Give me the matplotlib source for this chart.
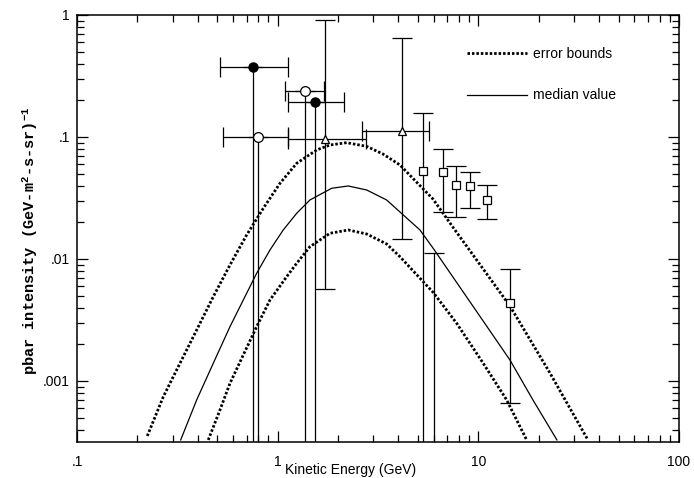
import numpy as np
import matplotlib
matplotlib.use('Agg')
import matplotlib.pyplot as plt
from matplotlib.ticker import FixedLocator, FixedFormatter, LogLocator, NullFormatter

# model curves (kinetic energy in GeV, intensity)
upper_x = [0.2240, 0.2692, 0.3259, 0.3948, 0.4776, 0.5785, 0.7006, 0.8480, 1.027, 1.244,
           1.564, 1.822, 2.207, 2.777, 3.347, 4.068, 5.940, 7.645, 14.37, 22.74, 35.17]
upper_y = [3.541e-4, 7.43e-4, 1.396e-3, 2.618e-3, 4.91e-3, 8.93e-3, 0.01573, 0.02603, 0.04174, 0.06087,
           0.07822, 0.08599, 0.08981, 0.0838, 0.0725, 0.05896, 0.03103, 0.01729, 4.118e-3, 1.163e-3, 3.284e-4]
median_x = [0.3286, 0.3948, 0.4776, 0.5785, 0.7006, 0.7857, 0.9154, 1.066, 1.244, 1.448, 1.858,
            2.248, 2.777, 3.492, 4.068, 5.117, 5.940, 8.744, 14.37, 18.71, 24.64]
median_y = [3.284e-4, 6.99e-4, 1.396e-3, 2.786e-3, 5.235e-3, 7.634e-3, 0.01185, 0.01729, 0.02369, 0.03045, 0.03798,
            0.03967, 0.03677, 0.03045, 0.02428, 0.01729, 0.01231, 4.882e-3, 1.486e-3, 6.99e-4, 3.284e-4]
lower_x = [0.4510, 0.5158, 0.5785, 0.6740, 0.7857, 0.9154, 1.109, 1.244, 1.448, 1.822,
           2.248, 2.777, 3.492, 4.068, 5.961, 7.797, 10.58, 13.84, 17.41]
lower_y = [3.284e-4, 5.787e-4, 9.57e-4, 1.633e-3, 2.786e-3, 4.612e-3, 7.16e-3, 9.22e-3, 0.01261, 0.01624,
           0.01729, 0.01603, 0.01327, 0.01044, 5.314e-3, 2.972e-3, 1.396e-3, 6.99e-4, 3.284e-4]

# measurements: x, y, x range, y range (1e-6 = error bar goes to zero)
fcirc_x = [0.753, 1.535]
fcirc_y = [0.375, 0.194]
fcirc_xlo = [0.516, 1.125]
fcirc_xhi = [1.125, 2.14]
fcirc_ylo = [1e-6, 1e-6]
fcirc_yhi = [0.375, 0.194]

ocirc_x = [0.798, 1.37]
ocirc_y = [0.100, 0.238]
ocirc_xlo = [0.534, 1.087]
ocirc_xhi = [1.125, 1.70]
ocirc_ylo = [1e-6, 1e-6]
ocirc_yhi = [0.100, 0.238]

tri_x = [1.72, 4.16]
tri_y = [0.096, 0.112]
tri_xlo = [1.125, 2.63]
tri_xhi = [2.75, 5.67]
tri_ylo = [0.0057, 0.0146]
tri_yhi = [0.91, 0.648]

sq_x = [5.30, 6.66, 7.73, 9.08, 11.04, 14.35]
sq_y = [0.0526, 0.0516, 0.0404, 0.0397, 0.0305, 0.00436]
sq_ylo = [1e-6, 0.0243, 0.0221, 0.0262, 0.0213, 0.00066]
sq_yhi = [0.157, 0.0798, 0.0578, 0.0516, 0.0404, 0.00828]

ul_x = [6.0]
ul_y = [0.0112]

xticks = [0.1, 1, 10, 100]
xticklabels = ['.1', '1', '10', '100']
yticks = [0.001, 0.01, 0.1, 1]
yticklabels = ['.001', '.01', '.1', '1']

plt.rcParams['font.family'] = 'Liberation Sans'
plt.rcParams['mathtext.fontset'] = 'custom'
plt.rcParams['mathtext.rm'] = 'Liberation Mono:bold'
plt.rcParams['mathtext.it'] = 'Liberation Mono:bold'
plt.rcParams['mathtext.bf'] = 'Liberation Mono:bold'

fig = plt.figure(figsize=(6.94, 4.78), dpi=100)
ax = fig.add_axes([77/694, 1-442/478, (679-77)/694, (442-15)/478])

DOT = (0, (0.9, 0.7))
ax.plot(upper_x, upper_y, color='black', lw=2.0, linestyle=DOT, label='error bounds')
ax.plot(median_x, median_y, color='black', lw=0.9, label='median value')
ax.plot(lower_x, lower_y, color='black', lw=2.0, linestyle=DOT)

def ebar(x, y, xlo, xhi, ylo, yhi, **kw):
    x = np.array(x); y = np.array(y)
    xerr = None
    if xlo is not None:
        xerr = [x - np.array(xlo), np.array(xhi) - x]
    yerr = [y - np.array(ylo), np.array(yhi) - y]
    ax.errorbar(x, y, xerr=xerr, yerr=yerr, ecolor='black', elinewidth=0.9,
                capsize=7, capthick=0.9, color='black', zorder=3, **kw)

ebar(fcirc_x, fcirc_y, fcirc_xlo, fcirc_xhi, fcirc_ylo, fcirc_yhi,
     fmt='o', ms=6.5, mfc='black', mec='black')
ebar(ocirc_x, ocirc_y, ocirc_xlo, ocirc_xhi, ocirc_ylo, ocirc_yhi,
     fmt='o', ms=7, mfc='white', mec='black', mew=0.9)
ebar(tri_x, tri_y, tri_xlo, tri_xhi, tri_ylo, tri_yhi,
     fmt='^', ms=6, mfc='white', mec='black', mew=0.9)
ebar(sq_x, sq_y, None, None, sq_ylo, sq_yhi,
     fmt='s', ms=5.5, mfc='white', mec='black', mew=0.9)
# upper limit only, value below the plotted range
ax.errorbar(ul_x, ul_y, yerr=[[ul_y[0] - 1e-6], [0]], fmt='none', ecolor='black',
            elinewidth=0.9, capsize=7, capthick=0.9)

ax.set_xscale('log')
ax.set_yscale('log')
ax.set_xlim(0.1, 100)
ax.set_ylim(3.16e-4, 1)

ax.xaxis.set_major_locator(FixedLocator(xticks))
ax.xaxis.set_major_formatter(FixedFormatter(xticklabels))
ax.yaxis.set_major_locator(FixedLocator(yticks))
ax.yaxis.set_major_formatter(FixedFormatter(yticklabels))
ax.xaxis.set_minor_locator(LogLocator(base=10, subs=np.arange(2, 10)))
ax.yaxis.set_minor_locator(LogLocator(base=10, subs=np.arange(2, 10)))
ax.xaxis.set_minor_formatter(NullFormatter())
ax.yaxis.set_minor_formatter(NullFormatter())

ax.tick_params(which='both', direction='in', top=True, right=True, width=0.9, labelsize=10)
ax.tick_params(which='major', length=8)
ax.tick_params(which='minor', length=5)
ax.tick_params(axis='x', which='major', pad=9)
ax.tick_params(axis='y', which='major', pad=5)
for s in ax.spines.values():
    s.set_linewidth(1.1)

fig.text(351/694, 1-470/478, 'Kinetic Energy (GeV)', ha='center', va='center', fontsize=10)
fig.text(30/694, 1-241/478, r'pbar intensity (GeV-m$^\mathrm{2}$-s-sr)$^\mathrm{-1}$',
         rotation=90, ha='center', va='center', fontsize=11,
         family='Liberation Mono', weight='bold')

ax.legend(loc='upper left', bbox_to_anchor=(0.648, 0.926), frameon=False, fontsize=10,
          handlelength=4.3, handletextpad=0.45, labelspacing=2.0,
          borderaxespad=0, borderpad=0)

fig.savefig('out.png', dpi=100)
